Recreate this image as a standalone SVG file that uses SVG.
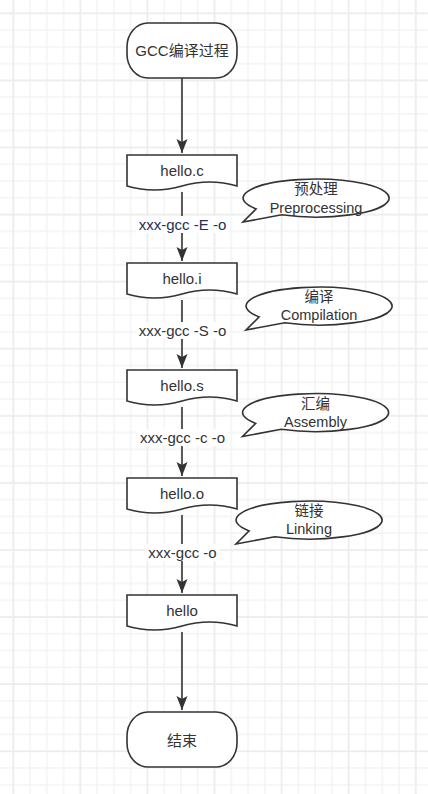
<svg xmlns="http://www.w3.org/2000/svg" width="428" height="794" viewBox="0 0 428 794">
<defs>
<pattern id="grid" patternUnits="userSpaceOnUse" x="12.3" y="12.3" width="67.08" height="67.08">
<path d="M17.77 0V67.08M34.54 0V67.08M51.31 0V67.08M0 17.77H67.08M0 34.54H67.08M0 51.31H67.08" stroke="#f3f3f3" stroke-width="1.4" fill="none"/>
<path d="M1 0V67.08M0 1H67.08" stroke="#ececec" stroke-width="1.7" fill="none"/>
</pattern>
<marker id="arr" markerUnits="userSpaceOnUse" markerWidth="16" markerHeight="12" refX="14" refY="5.5" orient="auto">
<path d="M0,0 L14,5.5 L0,11 L3,5.5 Z" fill="#333"/>
</marker>
<path id="doc" d="M0 0H110V31Q82.5 23 55 31Q27.5 39 0 31Z"/>
<path id="bubble" d="M-59.8 10.9A73 19 0 1 1 -34.3 16.8L-73 24Z"/>
</defs>
<style>
.shape{fill:#fff;stroke:#333;stroke-width:1.6}
.t{font-family:"Liberation Sans","Noto Sans CJK SC",sans-serif;font-size:14.5px;fill:#333;text-anchor:middle;dominant-baseline:central}
.l{font-size:15px}
.edge{stroke:#333;stroke-width:1.6;fill:none}
.lbg{fill:#fff}
</style>
<rect width="428" height="794" fill="#fff"/>
<rect width="428" height="794" fill="url(#grid)"/>

<g id="connectors">
<path class="edge" d="M182 78V153" marker-end="url(#arr)"/>
<path class="edge" d="M182 192V261" marker-end="url(#arr)"/>
<path class="edge" d="M182 300V368" marker-end="url(#arr)"/>
<path class="edge" d="M182 407V476" marker-end="url(#arr)"/>
<path class="edge" d="M182 515V593" marker-end="url(#arr)"/>
<path class="edge" d="M182 632V710" marker-end="url(#arr)"/>
<rect class="lbg" x="136.5" y="216" width="92" height="17"/>
<text class="t l" x="182.5" y="224.5" style="fill:#22305a">xxx-gcc -E -o</text>
<rect class="lbg" x="136.5" y="322" width="92" height="17"/>
<text class="t l" x="182.5" y="330.5">xxx-gcc -S -o</text>
<rect class="lbg" x="136.5" y="429" width="92" height="17"/>
<text class="t l" x="182.5" y="437.5">xxx-gcc -c -o</text>
<rect class="lbg" x="145" y="544" width="75" height="17"/>
<text class="t l" x="182.5" y="552.5">xxx-gcc -o</text>
</g>

<g id="start">
<rect class="shape" x="127" y="23" width="110" height="55" rx="21" ry="24"/>
<text class="t l" x="182" y="50.5">GCC编译过程</text>
</g>
<g id="hello_c">
<use href="#doc" class="shape" x="127" y="155"/>
<text class="t l" x="182" y="170.5">hello.c</text>
</g>
<g id="hello_i">
<use href="#doc" class="shape" x="127" y="263"/>
<text class="t l" x="182" y="278">hello.i</text>
</g>
<g id="hello_s">
<use href="#doc" class="shape" x="127" y="370"/>
<text class="t l" x="182" y="385.5">hello.s</text>
</g>
<g id="hello_o">
<use href="#doc" class="shape" x="127" y="478"/>
<text class="t l" x="182" y="493">hello.o</text>
</g>
<g id="hello">
<use href="#doc" class="shape" x="127" y="595"/>
<text class="t l" x="182" y="610">hello</text>
</g>
<g id="end">
<rect class="shape" x="127" y="712" width="110" height="55" rx="21" ry="24"/>
<text class="t l" x="182" y="740">结束</text>
</g>

<g id="preprocessing">
<use href="#bubble" class="shape" x="316" y="198"/>
<text class="t" x="316" y="188.5">预处理</text>
<text class="t" x="316" y="208">Preprocessing</text>
</g>
<g id="compilation">
<use href="#bubble" class="shape" x="319" y="306"/>
<text class="t" x="319" y="296.5">编译</text>
<text class="t" x="319" y="315">Compilation</text>
</g>
<g id="assembly">
<use href="#bubble" class="shape" x="315.5" y="412.5"/>
<text class="t" x="315.5" y="403.5">汇编</text>
<text class="t" x="315.5" y="421.5">Assembly</text>
</g>
<g id="linking">
<use href="#bubble" class="shape" x="309" y="520"/>
<text class="t" x="309" y="510.5">链接</text>
<text class="t" x="309" y="528.5">Linking</text>
</g>
</svg>
